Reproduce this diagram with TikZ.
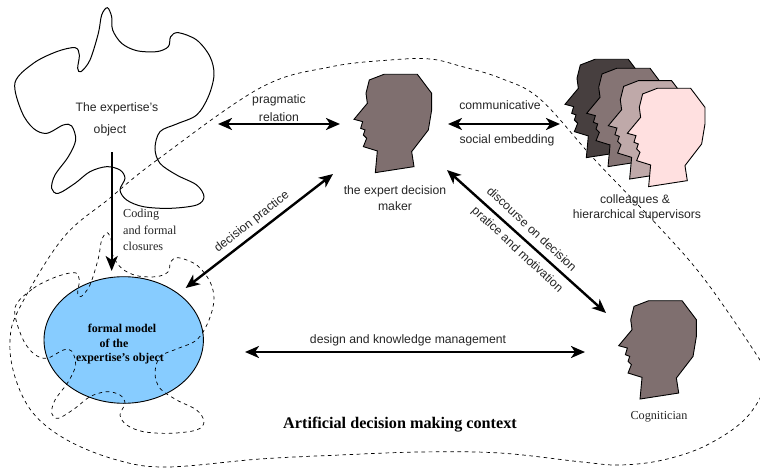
\documentclass[tikz,border=0pt]{standalone}
\usepackage{fontspec}
\setmainfont{Liberation Serif}
\setsansfont{Liberation Sans}
\usetikzlibrary{arrows.meta,shapes.geometric}
\definecolor{headmain}{HTML}{7F6F6F}
\definecolor{headA}{HTML}{473F3F}
\definecolor{headB}{HTML}{857474}
\definecolor{headC}{HTML}{BFA9A9}
\definecolor{headD}{HTML}{FFE0E0}
\definecolor{modelblue}{HTML}{87CCFF}
\tikzset{
  headshape/.style={draw=black,line width=0.9pt,line join=miter},
  bigarrow/.style={line width=2.4pt,{Stealth[length=14pt,width=12pt,inset=4pt]}-{Stealth[length=14pt,width=12pt,inset=4pt]}},
  downarrow/.style={line width=2.4pt,-{Stealth[length=15pt,width=12pt,inset=4pt]}},
  dashline/.style={line width=0.7pt,dash pattern=on 3.6pt off 3.6pt},
  sanslabel/.style={font=\sffamily\fontsize{12.2}{14}\selectfont,inner sep=0pt,text=black!85},
  seriflabel/.style={font=\fontsize{12.2}{14}\selectfont,inner sep=0pt,text=black!85},
  modellabel/.style={font=\bfseries\fontsize{11.9}{14}\selectfont,inner sep=0pt},
}
\newcommand{\headat}[3]{\draw[headshape,fill=#3,shift={(#1,#2)},scale=1/3,shift={(-72,-73)}]
  (162,73)--(262,73)--(305,130)--(305,180)--(295,240)--(245,305)--(252,350)--(136,368)--(142,303)--(100,290)--(110,265)--(100,255)--(105,240)--(92,235)--(98,215)--(72,208)--(112,160)--(108,130)--(118,90)--cycle;}
\newcommand{\blobpts}{(45,248)(100,190)(170,155)(225,143)(238,165)(233,205)(243,215)(270,180)(295,100)(305,45)(322,23)(335,50)(338,90)(365,130)(410,152)(470,155)(505,140)(512,110)(535,98)(590,120)(630,170)(642,225)(625,290)(590,345)(530,372)(480,395)(465,445)(480,490)(530,525)(590,555)(612,590)(590,615)(510,625)(430,620)(380,600)(360,570)(375,535)(360,510)(320,500)(270,515)(225,550)(175,580)(155,565)(165,525)(205,470)(227,420)(215,378)(190,375)(140,400)(100,385)(65,335)}
\begin{document}
\begin{tikzpicture}[x=1pt,y=-1pt]
\useasboundingbox (0,0) rectangle (760,468);
\clip (0,0) rectangle (760,468);
\fill[white] (0,0) rectangle (760,468);
% context outline
\draw[dashline] plot[smooth cycle,tension=0.6] coordinates {(260,88)(157,160)(110,198)(63,238)(20,307)(10,340)(15,377)(33,413)(67,440)(117,460)(167,467)(260,459)(340,455)(420,452)(500,453)(582,462)(620,465)(663,460)(707,445)(747,417)(768,378)(758,357)(705,280)(660,228)(595,160)(540,99)(500,78)(460,66)(430,59)(390,60)(330,67)};
% expertise object
\draw[line width=1pt,scale=1/3] plot[smooth cycle,tension=0.55] coordinates {\blobpts};
% formal model
\node[draw=black,line width=0.9pt,fill=modelblue,ellipse,minimum width=159.4pt,minimum height=126.6pt,inner sep=0pt] (model) at (123.7,340) {};
\draw[dashline,shift={(0,225)},scale=1/3] plot[smooth cycle,tension=0.55] coordinates {\blobpts};
% heads
\headat{354}{74.3}{headmain}
\headat{618.7}{300.7}{headmain}
\headat{565}{59.3}{headA}
\headat{586.7}{68.3}{headB}
\headat{608.3}{80.7}{headC}
\headat{627.3}{88.3}{headD}
% connector ends
\coordinate (pragL) at (218,124);
\coordinate (pragR) at (340,124);
\coordinate (commL) at (448,124);
\coordinate (commR) at (560,124);
\coordinate (objS) at (111.7,152);
\coordinate (modN) at (111.7,271);
\coordinate (modNE) at (185.7,288);
\coordinate (expSW) at (333,174);
\coordinate (expSE) at (447,170);
\coordinate (cogNW) at (606,313);
\coordinate (modE) at (245,352);
\coordinate (cogW) at (585,352);
\draw[bigarrow] (pragL)--(pragR);
\draw[bigarrow] (commL)--(commR);
\draw[downarrow] (objS)--(modN);
\draw[bigarrow] (modNE)--(expSW);
\draw[bigarrow] (expSE)--(cogNW);
\draw[bigarrow] (modE)--(cogW);
% labels
\node[sanslabel] (t1) at (117,108) {The expertise's};
\node[sanslabel] (t2) at (110,130) {object};
\node[seriflabel,anchor=west] (t3) at (123,215) {Coding};
\node[seriflabel,anchor=west] (t4) at (123,230) {and formal};
\node[seriflabel,anchor=west] (t5) at (123,246) {closures};
\node[sanslabel] (t6) at (279,100) {pragmatic};
\node[sanslabel] (t7) at (279,117) {relation};
\node[sanslabel] (t8) at (500,105) {communicative};
\node[sanslabel] (t9) at (507,140) {social embedding};
\node[sanslabel] (t10) at (395,191) {the expert decision};
\node[sanslabel] (t11) at (395,206) {maker};
\node[sanslabel] (t12) at (635,200) {colleagues \&};
\node[sanslabel] (t13) at (637,215) {hierarchical supervisors};
\node[sanslabel,rotate=38] (t14) at (252,222) {decision practice};
\node[sanslabel,rotate=-43] (t15) at (532,229) {discourse on decision};
\node[sanslabel,rotate=-43] (t16) at (517,250) {pratice and motivation};
\node[sanslabel] (t17) at (408,340) {design and knowledge management};
\node[seriflabel] (t18) at (659,417) {Cognitician};
\node[font=\bfseries\fontsize{16.2}{18}\selectfont,inner sep=0pt] (t19) at (400,425) {Artificial decision making context};
\node[modellabel] (t20) at (122,328) {formal model};
\node[modellabel] (t21) at (114,343) {of the};
\node[modellabel] (t22) at (120,359) {expertise’s object};
\end{tikzpicture}
\end{document}
